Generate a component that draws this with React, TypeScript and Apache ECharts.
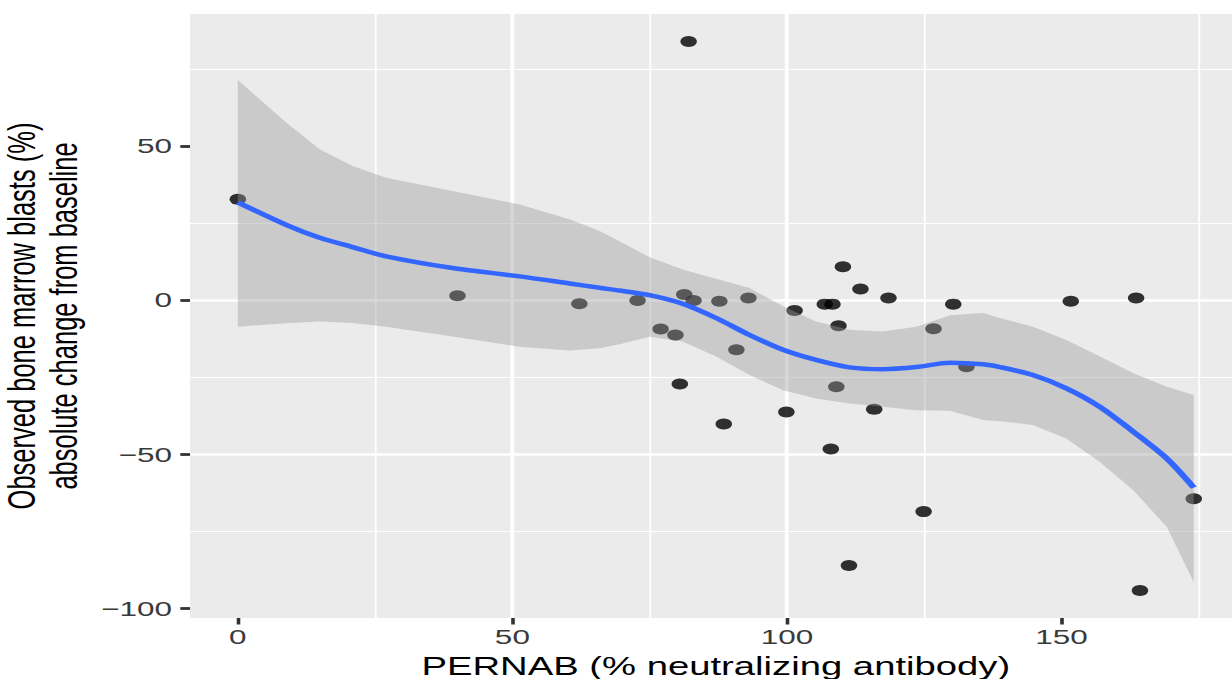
import React, { useEffect, useRef } from "react";
import * as echarts from "echarts";

// Observed points: PERNAB (% neutralizing antibody) vs change in marrow blasts
const pernab = [
  0, 40, 62.2, 72.8, 77, 79.7, 80.5, 81.3, 82.1, 83, 87.7, 88.5, 90.8, 93,
  99.9, 101.4, 106.9, 108.3, 108, 109, 109.4, 110.2, 111.3, 113.4, 115.9,
  118.5, 124.9, 126.7, 130.3, 132.7, 151.7, 163.6, 164.3, 174.1,
];
const blastChange = [
  32.8, 1.5, -1.1, 0, -9.3, -11.2, -27.1, 1.9, 84, 0, -0.3, -40.1, -16, 0.8,
  -36.2, -3.3, -1.2, -1.2, -48.2, -28, -8.2, 10.9, -86, 3.7, -35.3, 0.8,
  -68.5, -9.2, -1.2, -21.5, -0.3, 0.8, -94.1, -64.3,
];

// Loess fit with its confidence band
const smoothX = [
  0, 8.8, 14.9, 20.9, 27, 39.1, 51.3, 60.4, 65.9, 69.5, 75, 81, 87.1, 93.2,
  99.3, 105.3, 111.4, 117.5, 123.6, 129.7, 135.7, 138.8, 144.8, 150.9, 157,
  163.1, 169.2, 174.1,
];
const smoothFit = [
  31.8, 24.5, 20.3, 17.3, 14.3, 10.5, 7.8, 5.5, 4.1, 3.2, 1.7, -1.1, -5.7,
  -11.2, -16.0, -19.3, -21.7, -22.3, -21.6, -20.2, -20.7, -21.6, -24.2, -28.5,
  -34.5, -42.6, -51.3, -60.7,
];
const smoothUpper = [
  71.5, 57.7, 49.0, 43.6, 39.8, 35.5, 31.1, 26.3, 22.5, 19.2, 14.0, 10.0, 7.0,
  4.0, -1.9, -6.8, -9.5, -10.1, -8.5, -4.8, -4.1, -5.7, -8.5, -12.8, -18.2,
  -23.6, -28.0, -30.7,
];
const smoothLower = [
  -8.5, -7.4, -6.8, -7.3, -8.5, -11.7, -15.0, -16.2, -15.5, -14.2, -11.8,
  -13.3, -18.2, -24.2, -29.1, -31.8, -33.4, -34.5, -35.6, -35.8, -38.8, -39.2,
  -40.4, -44.8, -52.4, -61.6, -73.5, -91.4,
];

const xTicks = [0, 50, 100, 150];
const yTicks = [-100, -50, 0, 50];

const xTitle = "PERNAB (% neutralizing antibody)";
const yTitle = "Observed bone marrow blasts (%)\nabsolute change from baseline";

// The figure is drawn narrow and widened horizontally as a whole
const STRETCH = 1.5;
const CHART_W = 830;
const CHART_H = 679;
const FONT = "'Liberation Sans', Arial, Helvetica, sans-serif";

function expandRange(values: number[]): [number, number] {
  const lo = Math.min(...values);
  const hi = Math.max(...values);
  const pad = (hi - lo) * 0.05;
  return [lo - pad, hi + pad];
}

const fmtTick = (v: number) => (v < 0 ? "\u2212" + Math.abs(v) : String(v));

export default function App() {
  const ref = useRef<HTMLDivElement>(null);

  useEffect(() => {
    if (!ref.current) return;
    const chart = echarts.init(ref.current, null, { renderer: "svg" });
    const [xMin, xMax] = expandRange(pernab);
    const [yMin, yMax] = expandRange([...blastChange, ...smoothLower, ...smoothUpper]);
    const ribbon = smoothX.map((x, i) => [x, smoothLower[i], smoothUpper[i]]);

    const gridLine = { color: "#FFFFFF", width: 2.5 };
    const minorLine = { color: "#FFFFFF", width: 1.2 };

    chart.setOption({
      animation: false,
      backgroundColor: "#FFFFFF",
      grid: {
        left: 126.7,
        top: 14,
        width: 701,
        height: 604,
        show: true,
        backgroundColor: "#EBEBEB",
        borderWidth: 0,
        containLabel: false,
        outerBoundsMode: "none",
      },
      xAxis: {
        type: "value",
        min: xMin,
        max: xMax,
        minInterval: 50,
        maxInterval: 50,
        axisLine: { show: false, onZero: false },
        axisTick: {
          show: true,
          customValues: xTicks,
          length: 6.5,
          lineStyle: { color: "#333333", width: 2.4 },
        },
        axisLabel: {
          customValues: xTicks,
          color: "#3A3A3A",
          fontSize: 21,
          fontFamily: FONT,
          margin: 8,
          formatter: (v: number) => (xTicks.includes(v) ? fmtTick(v) : ""),
        },
        splitLine: { show: true, showMinLine: false, showMaxLine: false, lineStyle: gridLine },
        minorTick: { show: false, splitNumber: 2 },
        minorSplitLine: { show: true, lineStyle: minorLine },
        name: xTitle,
        nameLocation: "middle",
        nameGap: 35,
        nameTextStyle: { color: "#000000", fontSize: 25.5, fontFamily: FONT },
      },
      yAxis: {
        type: "value",
        min: yMin,
        max: yMax,
        minInterval: 50,
        maxInterval: 50,
        axisLine: { show: false, onZero: false },
        axisTick: {
          show: true,
          customValues: yTicks,
          length: 6.5,
          lineStyle: { color: "#333333", width: 2.8 },
        },
        axisLabel: {
          customValues: yTicks,
          color: "#3A3A3A",
          fontSize: 21,
          fontFamily: FONT,
          margin: 12,
          formatter: (v: number) => (yTicks.includes(v) ? fmtTick(v) : ""),
        },
        splitLine: { show: true, showMinLine: false, showMaxLine: false, lineStyle: gridLine },
        minorTick: { show: false, splitNumber: 2 },
        minorSplitLine: { show: true, lineStyle: minorLine },
        name: yTitle,
        nameLocation: "middle",
        nameGap: 66,
        nameTextStyle: {
          color: "#000000",
          fontSize: 25.5,
          lineHeight: 28,
          fontFamily: FONT,
          align: "center",
        },
      },
      series: [
        {
          type: "scatter",
          data: pernab.map((x, i) => [x, blastChange[i]]),
          symbolSize: 11,
          itemStyle: { color: "#000000" },
          z: 2,
          silent: true,
        },
        {
          type: "custom",
          data: ribbon,
          encode: { x: 0, y: [1, 2] },
          clip: true,
          z: 3,
          silent: true,
          renderItem: (params: any, api: any) => {
            if (params.dataIndex !== 0) return null;
            const upper = ribbon.map((d) => api.coord([d[0], d[2]]));
            const lower = ribbon.map((d) => api.coord([d[0], d[1]])).reverse();
            return {
              type: "polygon",
              shape: { points: upper.concat(lower) },
              style: { fill: "rgba(153,153,153,0.4)" },
            };
          },
        },
        {
          type: "line",
          data: smoothX.map((x, i) => [x, smoothFit[i]]),
          smooth: 0.3,
          showSymbol: false,
          lineStyle: { color: "#3366FF", width: 4.5 },
          z: 4,
          silent: true,
        },
      ],
    });

    return () => chart.dispose();
  }, []);

  return (
    <div
      style={{
        position: "fixed",
        left: 0,
        top: 0,
        width: 1232,
        height: 679,
        overflow: "hidden",
        background: "#FFFFFF",
      }}
    >
      <div
        ref={ref}
        style={{
          width: CHART_W,
          height: CHART_H,
          transform: `scaleX(${STRETCH})`,
          transformOrigin: "0 0",
        }}
      />
    </div>
  );
}
